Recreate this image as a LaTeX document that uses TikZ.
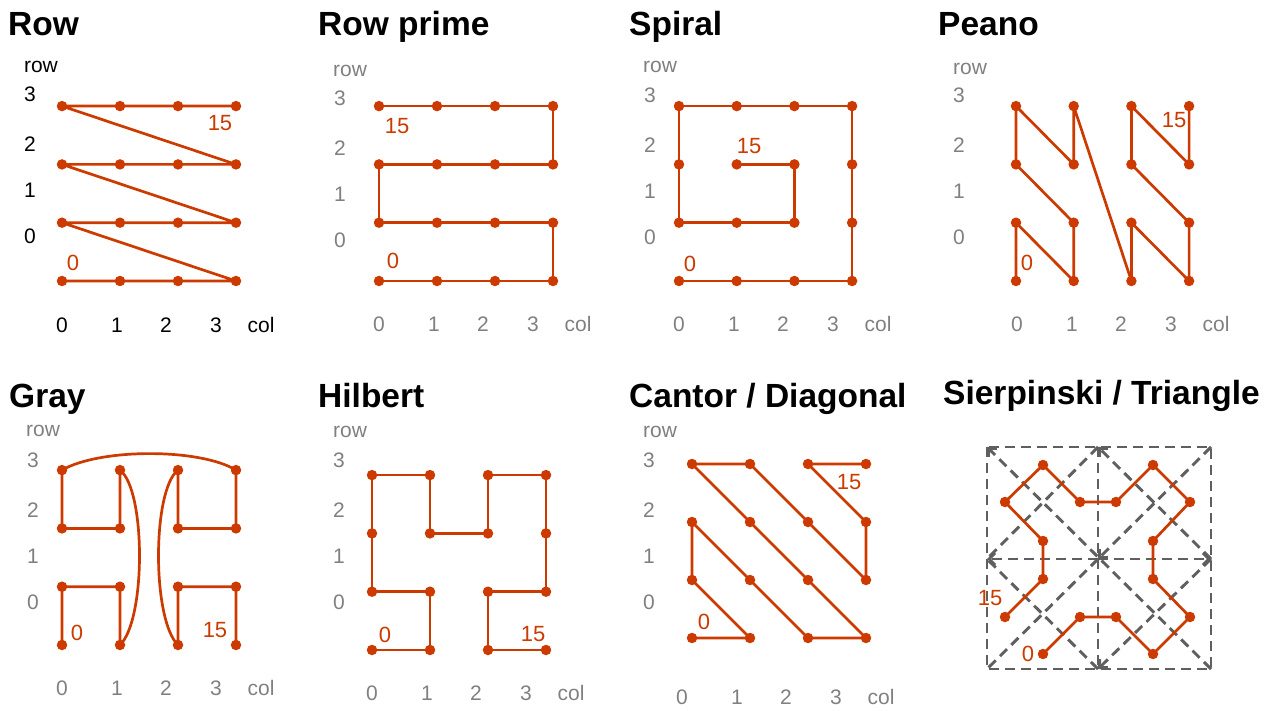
\documentclass[tikz,border=0pt]{standalone}
\usepackage{fontspec}
\setmainfont{Liberation Sans}
\usetikzlibrary{arrows.meta,calc}
\definecolor{curvered}{RGB}{204,58,0}
\definecolor{lblgray}{RGB}{128,128,128}
\definecolor{dashgray}{RGB}{95,95,95}
\newcommand\mkgrid[5]{\foreach \i in {0,...,3}{\foreach \j in {0,...,3}{\coordinate (#1-\i-\j) at ({#2+\i*#4},{#3-\j*#5});}}}
\newcommand\mkdots[1]{\foreach \i in {0,...,3}{\foreach \j in {0,...,3}{\node[gdot] (#1d-\i-\j) at (#1-\i-\j) {};}}}
\newcommand\axlbl[8]{%
\node[#2] (#1-row) at (#3,#4) {row};
\node[#2] (#1-y3) at (#5,#6) {3};
\node[#2] (#1-y2) at (#5,#6+50) {2};
\node[#2] (#1-y1) at (#5,#6+96) {1};
\node[#2] (#1-y0) at (#5,#6+142) {0};
\node[#2] (#1-x0) at (#7,#8) {0};
\node[#2] (#1-x1) at (#7+55,#8) {1};
\node[#2] (#1-x2) at (#7+104,#8) {2};
\node[#2] (#1-x3) at (#7+154,#8) {3};
\node[#2] (#1-col) at (#7+199,#8) {col};}
\begin{document}
\begin{tikzpicture}[x=1pt,y=-1pt,
  redpath/.style={draw=curvered, line width=2.7pt, line join=round},
  gdot/.style={circle, fill=curvered, inner sep=0pt, minimum size=10.5pt},
  ttl/.style={anchor=base west, inner sep=0pt, font=\fontsize{33.5}{36}\selectfont\bfseries},
  lbl/.style={anchor=base, inner sep=0pt, text=lblgray, font=\fontsize{21}{24}\selectfont},
  lblk/.style={lbl, text=black},
  rednum/.style={anchor=base, inner sep=0pt, text=curvered, font=\fontsize{22}{24}\selectfont},
  dashguide/.style={draw=dashgray, line width=2.9pt, dash pattern=on 10pt off 6pt},
  tipb/.style={-{Straight Barb[length=6pt,width=12pt]}}]
\useasboundingbox (0,0) rectangle (1278,711);

% titles
\node[ttl] (t1) at (8,36) {Row};
\node[ttl] (t2) at (318,36) {Row prime};
\node[ttl] (t3) at (629,36) {Spiral};
\node[ttl] (t4) at (938,36) {Peano};
\node[ttl] (t5) at (9,407) {Gray};
\node[ttl] (t6) at (318,408) {Hilbert};
\node[ttl] (t7) at (629,408) {Cantor / Diagonal};
\node[ttl] (t8) at (943,405) {Sierpinski / Triangle};

% axis labels
\axlbl{aR}{lblk}{41}{73}{30}{102}{62}{333}
\axlbl{aP}{lbl}{350}{77}{340}{106}{379}{332}
\axlbl{aS}{lbl}{660}{73}{650}{103}{679}{332}
\axlbl{aZ}{lbl}{970}{75}{959}{103}{1017}{332}
\axlbl{aG}{lbl}{43}{436}{33}{467}{62}{695}
\axlbl{aH}{lbl}{350}{437}{339}{467}{372}{700}
\axlbl{aC}{lbl}{660}{437}{649}{467}{682}{704}

% grids
\mkgrid{R}{62}{281}{58}{58.3}
\mkgrid{P}{379}{281}{58}{58.3}
\mkgrid{S}{679}{281}{57.7}{58.3}
\mkgrid{Z}{1016}{281}{57.7}{58.3}
\mkgrid{G}{62}{645}{58}{58.3}
\mkgrid{H}{372}{650}{58}{58.3}
\mkgrid{C}{692}{638}{58}{58}

% Row
\draw[redpath] (R-0-0)--(R-1-0)--(R-2-0)--(R-3-0)--(R-0-1)--(R-1-1)--(R-2-1)--(R-3-1)--(R-0-2)--(R-1-2)--(R-2-2)--(R-3-2)--(R-0-3)--(R-1-3)--(R-2-3)--(R-3-3);
% Row prime
\draw[redpath] (P-0-0)--(P-1-0)--(P-2-0)--(P-3-0)--(P-3-1)--(P-2-1)--(P-1-1)--(P-0-1)--(P-0-2)--(P-1-2)--(P-2-2)--(P-3-2)--(P-3-3)--(P-2-3)--(P-1-3)--(P-0-3);
% Spiral
\draw[redpath] (S-0-0)--(S-1-0)--(S-2-0)--(S-3-0)--(S-3-1)--(S-3-2)--(S-3-3)--(S-2-3)--(S-1-3)--(S-0-3)--(S-0-2)--(S-0-1)--(S-1-1)--(S-2-1)--(S-2-2)--(S-1-2);
% Peano
\draw[redpath] (Z-0-0)--(Z-0-1)--(Z-1-0)--(Z-1-1)--(Z-0-2)--(Z-0-3)--(Z-1-2)--(Z-1-3)--(Z-2-0)--(Z-2-1)--(Z-3-0)--(Z-3-1)--(Z-2-2)--(Z-2-3)--(Z-3-2)--(Z-3-3);
% Gray
\draw[redpath] (G-0-0)--(G-0-1)--(G-1-1)--(G-1-0) .. controls +(26,-25) and +(26,20) .. (G-1-3)--(G-1-2)--(G-0-2)--(G-0-3) .. controls +(38,-22) and +(-36,-22) .. (G-3-3)--(G-3-2)--(G-2-2)--(G-2-3) .. controls +(-26,20) and +(-26,-25) .. (G-2-0)--(G-2-1)--(G-3-1)--(G-3-0);
% Hilbert
\draw[redpath] (H-0-0)--(H-1-0)--(H-1-1)--(H-0-1)--(H-0-2)--(H-0-3)--(H-1-3)--(H-1-2)--(H-2-2)--(H-2-3)--(H-3-3)--(H-3-2)--(H-3-1)--(H-2-1)--(H-2-0)--(H-3-0);
% Cantor
\draw[redpath] (C-0-0)--(C-1-0)--(C-0-1)--(C-0-2)--(C-1-1)--(C-2-0)--(C-3-0)--(C-2-1)--(C-1-2)--(C-0-3)--(C-1-3)--(C-2-2)--(C-3-1)--(C-3-2)--(C-2-3)--(C-3-3);

\mkdots{R}\mkdots{P}\mkdots{S}\mkdots{Z}\mkdots{G}\mkdots{H}\mkdots{C}

% Sierpinski guides
\coordinate (Q-tl) at (987,447);
\coordinate (Q-tr) at (1211,447);
\coordinate (Q-bl) at (987,669);
\coordinate (Q-br) at (1211,669);
\coordinate (Q-t) at (1098,447);
\coordinate (Q-b) at (1098,669);
\coordinate (Q-l) at (987,559);
\coordinate (Q-r) at (1211,559);
\coordinate (Q-c) at (1098,559);
\draw[dashguide] (Q-tl) rectangle (Q-br);
\draw[dashguide] (Q-t)--(Q-c);
\draw[dashguide] (Q-c)--(Q-b);
\draw[dashguide,tipb] (Q-c)--(Q-l);
\draw[dashguide,tipb] (Q-c)--(Q-r);
\draw[dashguide,tipb] (Q-br)--(Q-tl);
\draw[dashguide,tipb] (Q-tr)--(Q-c);
\draw[dashguide] (Q-c)--(Q-bl);
\draw[dashguide,tipb] (Q-r)--(Q-t);
\draw[dashguide,tipb] (Q-r)--(Q-b);
\draw[dashguide] (Q-t)--(Q-l)--(Q-b);

% Sierpinski curve
\coordinate (T-0) at (1043,654);
\coordinate (T-1) at (1080,617);
\coordinate (T-2) at (1116,617);
\coordinate (T-3) at (1153,654);
\coordinate (T-4) at (1190,617);
\coordinate (T-5) at (1153,579);
\coordinate (T-6) at (1153,541);
\coordinate (T-7) at (1190,502);
\coordinate (T-8) at (1153,465);
\coordinate (T-9) at (1116,502);
\coordinate (T-10) at (1080,502);
\coordinate (T-11) at (1043,465);
\coordinate (T-12) at (1005,502);
\coordinate (T-13) at (1043,541);
\coordinate (T-14) at (1043,579);
\coordinate (T-15) at (1005,617);
\draw[redpath] (T-0)--(T-1)--(T-2)--(T-3)--(T-4)--(T-5)--(T-6)--(T-7)--(T-8)--(T-9)--(T-10)--(T-11)--(T-12)--(T-13)--(T-14)--(T-15);
\foreach \k in {0,...,15}{\node[gdot] (Td-\k) at (T-\k) {};}

% start / end numbers
\node[rednum] (nR0) at (73,271) {0};
\node[rednum] (nR15) at (220,131) {15};
\node[rednum] (nP0) at (393,269) {0};
\node[rednum] (nP15) at (397,134) {15};
\node[rednum] (nS0) at (690,272) {0};
\node[rednum] (nS15) at (749,154) {15};
\node[rednum] (nZ0) at (1027,271) {0};
\node[rednum] (nZ15) at (1174,128) {15};
\node[rednum] (nG0) at (77,640) {0};
\node[rednum] (nG15) at (215,637) {15};
\node[rednum] (nH0) at (385,642) {0};
\node[rednum] (nH15) at (533,641) {15};
\node[rednum] (nC0) at (704,629) {0};
\node[rednum] (nC15) at (849,489) {15};
\node[rednum] (nT0) at (1028,661) {0};
\node[rednum] (nT15) at (990,605) {15};
\end{tikzpicture}
\end{document}
